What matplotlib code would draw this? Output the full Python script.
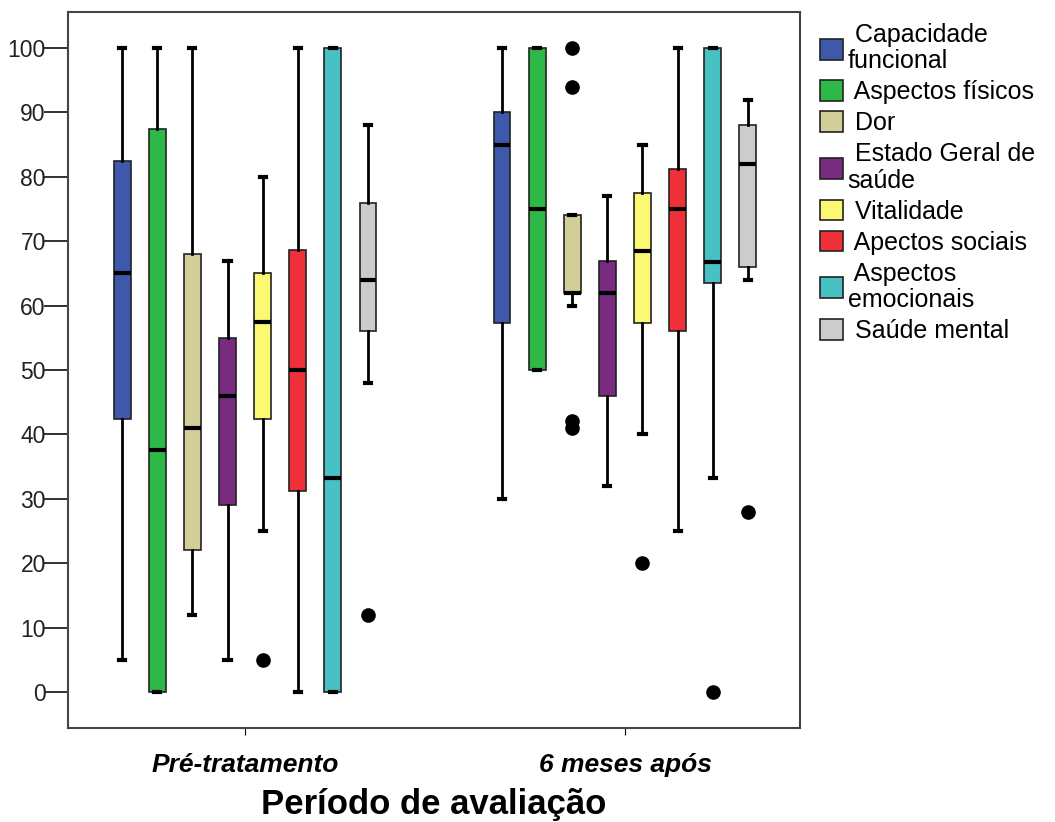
import numpy as np
import matplotlib.pyplot as plt
from matplotlib.patches import Patch

plt.rcParams['font.family'] = ['Liberation Sans', 'DejaVu Sans']

groups = ["Pré-tratamento", "6 meses após"]
series = ["Capacidade\nfuncional", "Aspectos físicos", "Dor", "Estado Geral de\nsaúde",
          "Vitalidade", "Apectos sociais", "Aspectos\nemocionais", "Saúde mental"]
colors = ["#3E58AC", "#2EB848", "#D3CE97", "#782B7F", "#FBF873", "#EF3038", "#48C1C4", "#CCCCCC"]

# box stats, one row per series: [pre, 6 months]
whislo = [[5, 30], [0, 50], [12, 60], [5, 32], [25, 40], [0, 25], [0, 33.3], [48, 64]]
q1 = [[42.4, 57.3], [0, 50], [22, 62], [29, 46], [42.4, 57.3], [31.2, 56], [0, 63.5], [56, 66]]
med = [[65, 85], [37.5, 75], [41, 62], [46, 62], [57.5, 68.5], [50, 75], [33.3, 66.7], [64, 82]]
q3 = [[82.5, 90], [87.5, 100], [68, 74], [55, 67], [65, 77.5], [68.7, 81.2], [100, 100], [76, 88]]
whishi = [[100, 100], [100, 100], [100, 74], [67, 77], [80, 85], [100, 100], [100, 100], [88, 92]]
fliers = [[[], []], [[], []], [[], [100, 94, 42, 41]], [[], []], [[5], [20]],
          [[], []], [[], [0]], [[12], [28]]]

fig = plt.figure(figsize=(10.55, 8.22), dpi=100)
ax = fig.add_axes([0.0645, 0.1144, 0.6935, 0.871])

step = 0.0924
for i in range(len(series)):
    stats = []
    for g in range(2):
        stats.append(dict(whislo=whislo[i][g], q1=q1[i][g], med=med[i][g], q3=q3[i][g],
                          whishi=whishi[i][g], fliers=fliers[i][g]))
    pos = [g + (i - 3.5) * step for g in range(2)]
    ax.bxp(stats, positions=pos, widths=0.044, patch_artist=True, manage_ticks=False,
           boxprops=dict(facecolor=colors[i], edgecolor="#222222", linewidth=1.2),
           medianprops=dict(color="black", linewidth=3),
           whiskerprops=dict(color="black", linewidth=2),
           capprops=dict(color="black", linewidth=3),
           capwidths=0.016,
           flierprops=dict(marker="o", markerfacecolor="black", markeredgecolor="black",
                           markersize=9.5))

ax.set_ylim(-5.6, 105.6)
ax.set_xlim(-0.466, 1.46)
ax.set_yticks(np.arange(0, 101, 10))
ax.tick_params(axis="y", length=17, width=1.3, labelsize=16.5, colors="#222222", pad=-1)
ax.set_xticks([0, 1])
ax.set_xticklabels(groups, fontsize=19, fontweight="bold", fontstyle="italic")
ax.tick_params(axis="x", length=5, pad=13)
ax.set_xlabel("Período de avaliação", fontsize=25, fontweight="bold", labelpad=8)
for s in ax.spines.values():
    s.set_color("#444444")
    s.set_linewidth(1.5)

handles = [Patch(facecolor=c, edgecolor="#222222", linewidth=1.2) for c in colors]
leg = fig.legend(handles, [" " + s for s in series], loc="upper left",
                 bbox_to_anchor=(0.768, 0.984), frameon=False, fontsize=18,
                 handlelength=0.9, handleheight=0.9, handletextpad=0.2, labelspacing=0.28,
                 borderaxespad=0)
for t in leg.get_texts():
    t.set_linespacing(1.12)

fig.savefig("out.png", dpi=100)
